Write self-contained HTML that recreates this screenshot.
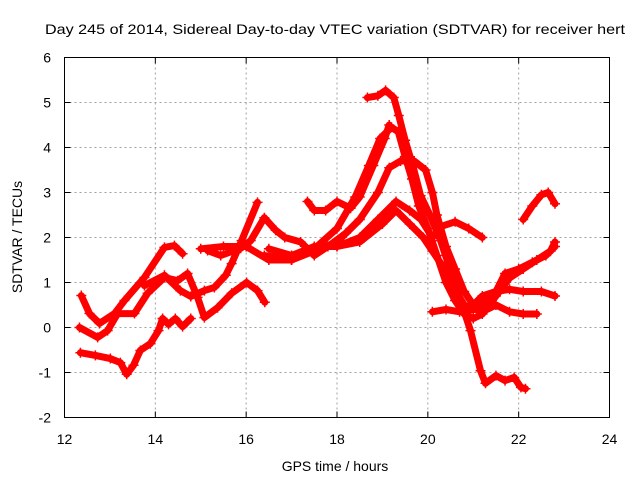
<!DOCTYPE html>
<html><head><meta charset="utf-8"><style>
html,body{margin:0;padding:0;background:#fff;}
svg{display:block;font-family:"Liberation Sans",sans-serif;}
</style></head><body>
<svg id="chart" width="640" height="480" viewBox="0 0 640 480">
<text x="335" y="34" text-anchor="middle" font-size="14" textLength="580" lengthAdjust="spacingAndGlyphs" fill="#000">Day 245 of 2014, Sidereal Day-to-day VTEC variation (SDTVAR) for receiver hert</text>
<text transform="translate(22,237) rotate(-90)" text-anchor="middle" font-size="14" fill="#000">SDTVAR / TECUs</text>
<text x="335" y="471" text-anchor="middle" font-size="14" fill="#000">GPS time / hours</text>
<g id="grid"></g>
<g id="series"></g>
<rect x="64.5" y="57.5" width="545" height="360" fill="none" stroke="#000" stroke-width="1"/>
<g id="ticks"></g>
</svg>
<script>
const xTicks=[12,14,16,18,20,22,24];
const yTicks=[-2,-1,0,1,2,3,4,5,6];
const t1h=[12.35,12.68,13.01,13.23,13.37,13.52,13.67,13.89,14.07,14.16,14.29,14.44,14.6,14.78];
const t1v=[-0.56,-0.62,-0.69,-0.78,-1.04,-0.84,-0.51,-0.36,-0.07,0.2,0.07,0.2,0.02,0.2];
const t2h=[12.33,12.73,12.95,13.17,13.54,13.83,14.2,14.49,14.71,14.93,15.08,15.37,15.68,16.01,16.25,16.41];
const t2v=[0.0,-0.22,-0.07,0.31,0.31,0.76,1.11,1.04,1.2,0.67,0.22,0.44,0.76,1.0,0.82,0.56];
const t3h=[12.37,12.55,12.77,13.1,13.32,13.76,14.2,14.42,14.6];
const t3v=[0.71,0.31,0.09,0.31,0.6,1.11,1.78,1.82,1.64];
const t4h=[13.76,14.2,14.55,14.78,15.08,15.3,15.55,15.68,15.9,16.25];
const t4v=[0.93,1.16,0.82,0.69,0.82,0.89,1.16,1.42,1.93,2.78];
const t5h=[15.15,15.44,15.88,16.1,16.4,16.65,16.85,17.2,17.5,17.8,18.2,18.5];
const t5v=[1.71,1.6,1.76,1.93,2.44,2.16,2.0,1.9,1.6,1.8,2.1,2.4];
const t6h=[17.35,17.5,17.75,18.0,18.3,18.5,18.8,19.05,19.15];
const t6v=[2.8,2.6,2.6,2.8,2.65,2.9,3.6,4.2,4.5];
const t7h=[18.67,18.9,19.07,19.25,19.36,19.5,19.67,19.84,20.05,20.28,20.5,20.72,20.94,21.16,21.27,21.5,21.7,21.9,22.05,22.15];
const t7v=[5.11,5.15,5.27,5.11,4.71,4.16,3.6,2.93,2.49,1.93,1.27,0.6,-0.07,-0.96,-1.24,-1.07,-1.18,-1.11,-1.33,-1.36];
const t8h=[17.0,17.5,18.0,18.4,18.7,18.95,19.2,19.35,19.5,19.65,19.8,20.0,20.2,20.4,20.6,20.8,21.0,21.2,21.5,21.8,22.1,22.4,22.7,22.8];
const t8v=[1.5,1.75,2.2,2.9,3.6,4.2,4.45,4.35,3.8,3.3,2.7,2.2,1.6,1.0,0.6,0.3,0.2,0.3,0.7,1.1,1.3,1.5,1.7,1.9];
const t9h=[16.4,17.0,17.5,18.0,18.5,18.9,19.15,19.4,19.7,19.95,20.1,20.2,20.4,20.6,20.8,21.0,21.2,21.5,21.8,22.1,22.5,22.8];
const t9v=[1.6,1.5,1.7,1.9,2.4,3.0,3.55,3.7,3.7,3.5,3.0,2.5,1.8,1.3,0.8,0.5,0.7,0.8,0.85,0.8,0.8,0.7];
const t10h=[16.5,17.0,17.5,18.0,18.5,18.9,19.3,19.6,19.85,20.1,20.3,20.6,20.9,21.2];
const t10v=[1.75,1.6,1.8,1.8,2.0,2.4,2.8,2.6,2.4,2.0,2.25,2.35,2.2,2.0];
const t11h=[15.0,15.5,16.0,16.5,17.0,17.5,18.0,18.5,19.0,19.3,19.6,19.9,20.1,20.3,20.5,20.8,21.0,21.2,21.5,21.7,22.0,22.3,22.6,22.8];
const t11v=[1.75,1.8,1.8,1.5,1.5,1.8,1.8,1.9,2.3,2.6,2.3,2.0,1.7,1.4,1.0,0.5,0.4,0.5,0.8,1.2,1.3,1.45,1.6,1.8];
const t12h=[20.1,20.4,20.7,21.0,21.3,21.5,21.8,22.1,22.4];
const t12v=[0.35,0.4,0.35,0.4,0.4,0.5,0.35,0.3,0.3];
const t13h=[22.1,22.3,22.5,22.65,22.8];
const t13v=[2.4,2.7,2.95,3.0,2.75];
const seriesH=[t1h,t2h,t3h,t4h,t5h,t6h,t7h,t8h,t9h,t10h,t11h,t12h,t13h];
const seriesV=[t1v,t2v,t3v,t4v,t5v,t6v,t7v,t8v,t9v,t10v,t11v,t12v,t13v];

const X0=64.5,X1=609.5,Y0=417.5,Y1=57.5;
function xs(h){return X0+(h-12)/(24-12)*(X1-X0);}
function ys(v){return Y0-(v+2)/8*(Y0-Y1);}
const NS='http://www.w3.org/2000/svg';
function mk(tag,attrs,parent){const e=document.createElementNS(NS,tag);for(const k in attrs)e.setAttribute(k,attrs[k]);parent.appendChild(e);return e;}
const grid=document.getElementById('grid'),ticks=document.getElementById('ticks'),ser=document.getElementById('series');
xTicks.forEach(t=>{
  const x=xs(t);
  if(t>12&&t<24){const g=mk('line',{x1:x,x2:x,y1:Y1,y2:Y0,stroke:'#a0a0a0','stroke-dasharray':'2,3','stroke-width':1},grid);
  
  }
  const a=mk('line',{x1:x,x2:x,y1:Y0,y2:Y0-6,stroke:'#000'},ticks);
  
  
  const b=mk('line',{x1:x,x2:x,y1:Y1,y2:Y1+6,stroke:'#000'},ticks);
  
  
  const l=mk('text',{x:x,y:444,'text-anchor':'middle','font-size':14,fill:'#000'},ticks);
  l.textContent=t;
  
  
});
yTicks.forEach(t=>{
  const y=ys(t);
  if(t>-2&&t<6){const g=mk('line',{x1:X0,x2:X1,y1:y,y2:y,stroke:'#a0a0a0','stroke-dasharray':'2,3','stroke-width':1},grid);
  
  }
  const a=mk('line',{x1:X0,x2:X0+6,y1:y,y2:y,stroke:'#000'},ticks);
  
  
  const b=mk('line',{x1:X1,x2:X1-6,y1:y,y2:y,stroke:'#000'},ticks);
  
  
  const l=mk('text',{x:51,y:y+5,'text-anchor':'end','font-size':14,fill:'#000'},ticks);
  l.textContent=t;
  
  
});
seriesH.forEach((hs,i)=>{
  const vs=seriesV[i];
  const pts=hs.map((h,j)=>xs(h).toFixed(1)+','+ys(vs[j]).toFixed(1)).join(' ');
  const p=mk('polyline',{points:pts,fill:'none',stroke:'#ff0000','stroke-width':7,'stroke-linejoin':'round','stroke-linecap':'round'},ser);
  
  
  hs.forEach((h,j)=>{
    const x=xs(h),y=ys(vs[j]);
    const m=mk('path',{d:`M${x-5},${y}H${x+5}M${x},${y-5}V${y+5}`,stroke:'#ff0000','stroke-width':1.5},ser);
    
    
  });
});
</script>
</body></html>
